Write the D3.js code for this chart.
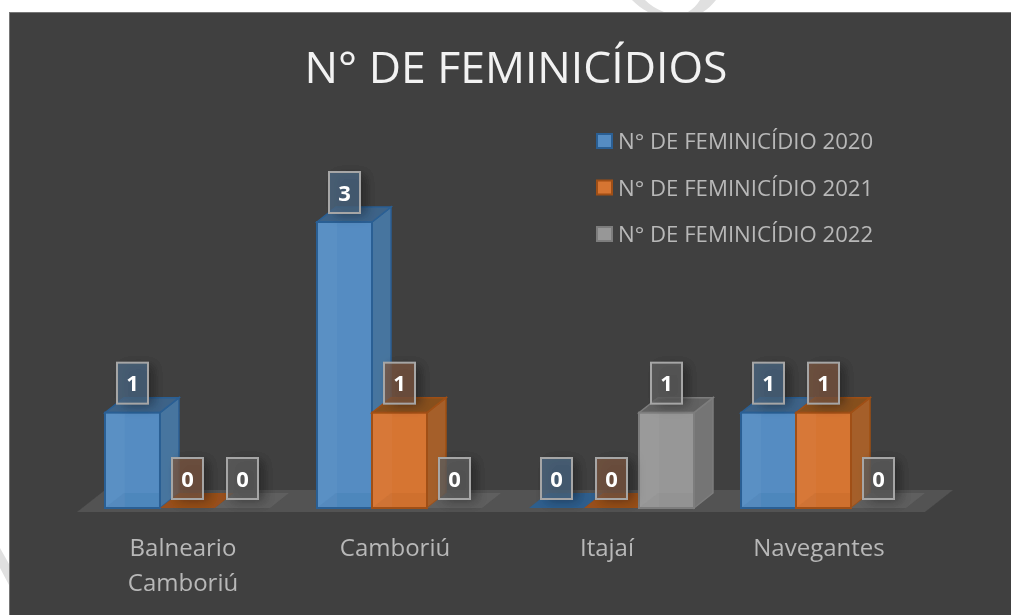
<!DOCTYPE html>
<html>
<head>
<meta charset="utf-8">
<script src="https://cdn.jsdelivr.net/npm/d3@7"></script>
<style>
  html, body { margin: 0; padding: 0; background: #fff; }
  svg { display: block; }
  text { font-family: "Open Sans", "Noto Sans", sans-serif; }
</style>
</head>
<body>
<div id="chart"></div>
<script>
var categories = ["Balneario Camboriú", "Camboriú", "Itajaí", "Navegantes"];
var seriesNames = ["N° DE FEMINICÍDIO 2020", "N° DE FEMINICÍDIO 2021", "N° DE FEMINICÍDIO 2022"];
var values2020 = [1, 3, 0, 1];
var values2021 = [0, 1, 0, 1];
var values2022 = [0, 0, 1, 0];
var chartTitle = "N° DE FEMINICÍDIOS";

var width = 1011, height = 615;
var depthX = 19, depthY = 15;

// one set of shades per series: front, side, top, edge
var shades = [
    {front: "#548cc2", side: "#47759f", top: "#3d6388", edge: "#2a5f94", label: "#4a6781"},
    {front: "#d67432", side: "#a55f2a", top: "#87501f", edge: "#a04f14", label: "#7a5640"},
    {front: "#979797", side: "#757575", top: "#626262", edge: "#7d7d7d", label: "#5e5e5e"}
];

var svg = d3.select("#chart").append("svg")
    .attr("width", width)
    .attr("height", height);

var defs = svg.append("defs");
defs.append("filter").attr("id", "soft")
    .append("feGaussianBlur").attr("stdDeviation", 0.45);
defs.append("filter").attr("id", "shadow")
    .attr("x", "-60%").attr("y", "-60%").attr("width", "220%").attr("height", "220%")
    .append("feGaussianBlur").attr("stdDeviation", 6);

// watermark bits showing in the white margin
svg.append("path")
    .attr("d", "M0,548 L9,564 L9,585 L0,568 Z M632,0 L645,0 C650,5 656,9 664,12 L648,12 C642,9 637,5 632,0 Z M700,0 L716,0 C712,5 708,9 703,12 L688,12 C693,9 697,5 700,0 Z")
    .attr("fill", "#e0e0e0");

var root = svg.append("g").attr("filter", "url(#soft)");

root.append("rect")
    .attr("x", 9.5).attr("y", 12.5)
    .attr("width", width).attr("height", height)
    .attr("fill", "#404040")
    .attr("stroke", "#767676");

root.append("text")
    .attr("x", 516).attr("y", 83)
    .attr("text-anchor", "middle")
    .attr("font-size", 44.5)
    .attr("fill", "#f2f2f2")
    .text(chartTitle);

var x0 = d3.scaleBand()
    .domain(categories)
    .range([81.5, 929.5])
    .paddingInner(0.2217)
    .paddingOuter(0.1108);

var x1 = d3.scaleBand()
    .domain(seriesNames)
    .range([0, x0.bandwidth()]);

var y = d3.scaleLinear()
    .domain([0, 3])
    .range([508, 222]);

// floor of the 3D chart
var floorL = x0.range()[0] - 4.5, floorR = x0.range()[1] - 4.5, floorY = y(0) + 4;
root.append("path")
    .attr("d", d3.line()([[floorL, floorY], [floorR, floorY], [floorR + 28, floorY - 22], [floorL + 28, floorY - 22]]) + "Z")
    .attr("fill", "#525252");

var allValues = [values2020, values2021, values2022];

var rows = [];
categories.forEach(function(c, i) {
    seriesNames.forEach(function(s, j) {
        rows.push({cat: c, series: s, idx: j, value: allValues[j][i]});
    });
});

function poly(pts) { return d3.line()(pts) + "Z"; }

var bars = root.selectAll("g.bar")
    .data(rows)
    .enter()
    .append("g")
    .attr("class", "bar");

bars.each(function(d) {
    var g = d3.select(this);
    var c = shades[d.idx];
    var xa = x0(d.cat) + x1(d.series);
    var xb = xa + x1.bandwidth();
    var yb = y(0), yt = y(d.value);

    if (d.value == 0) {
        // zero values are only a flat plate on the floor
        g.append("path")
            .attr("d", poly([[xa, yb], [xb, yb], [xb + depthX, yb - depthY], [xa + depthX, yb - depthY]]))
            .attr("fill", d.idx == 2 ? "#626262" : c.edge)
            .attr("fill-opacity", d.idx == 2 ? 0.8 : 0.9);
        return;
    }
    g.append("path")
        .attr("d", poly([[xb, yb], [xb + depthX, yb - depthY], [xb + depthX, yt - depthY], [xb, yt]]))
        .attr("fill", c.side).attr("stroke", c.edge).attr("stroke-width", 1.5);
    g.append("path")
        .attr("d", poly([[xa, yt], [xb, yt], [xb + depthX, yt - depthY], [xa + depthX, yt - depthY]]))
        .attr("fill", c.top).attr("stroke", c.edge).attr("stroke-width", 1.5);
    g.append("rect")
        .attr("x", xa).attr("y", yt)
        .attr("width", xb - xa).attr("height", yb - yt)
        .attr("fill", c.front).attr("stroke", c.edge).attr("stroke-width", 2);
    // inner back edge seen through the translucent bar
    g.append("rect")
        .attr("x", xa + 1).attr("y", yt + 1)
        .attr("width", depthX).attr("height", yb - yt - 2)
        .attr("fill", "#fff").attr("fill-opacity", 0.035);
    g.append("path")
        .attr("d", poly([[xa + 1, yb - 1], [xb - 1, yb - 1], [xb - 1, yb - depthY], [xa + depthX, yb - depthY]]))
        .attr("fill", c.edge).attr("fill-opacity", 0.12);
});

// value labels sit above the bar in a translucent box
var boxW = 31, boxH = 41;

var labelShadows = root.append("g").selectAll("rect")
    .data(rows)
    .enter()
    .append("rect")
    .attr("x", function(d) { return x0(d.cat) + x1(d.series) + x1.bandwidth() / 2 - boxW / 2 + 6; })
    .attr("y", function(d) { return y(d.value) - 9 - boxH + 2; })
    .attr("width", boxW)
    .attr("height", boxH)
    .attr("fill", "#000")
    .attr("fill-opacity", 0.38)
    .attr("filter", "url(#shadow)");

var labels = root.selectAll("g.value")
    .data(rows)
    .enter()
    .append("g")
    .attr("class", "value")
    .attr("transform", function(d) {
        return "translate(" + (x0(d.cat) + x1(d.series) + x1.bandwidth() / 2) + "," + (y(d.value) - 9 - boxH / 2) + ")";
    });

labels.append("rect")
    .attr("x", -boxW / 2).attr("y", -boxH / 2)
    .attr("width", boxW).attr("height", boxH)
    .attr("fill", function(d) { return shades[d.idx].label; })
    .attr("fill-opacity", 0.78)
    .attr("stroke", "#a6a6a6")
    .attr("stroke-width", 2);

labels.append("text")
    .attr("text-anchor", "middle")
    .attr("y", 8)
    .attr("font-size", 22)
    .attr("font-weight", 700)
    .attr("fill", "#fff")
    .text(function(d) { return d.value; });

// category labels, the long one wraps in two lines
var catLabels = root.selectAll("text.cat")
    .data(categories)
    .enter()
    .append("text")
    .attr("class", "cat")
    .attr("text-anchor", "middle")
    .attr("font-size", 24)
    .attr("fill", "#b8b8b8");

catLabels.each(function(d, i) {
    var cx = x0(d) + x0.bandwidth() / 2 - 4.5;
    var words = d == "Balneario Camboriú" ? d.split(" ") : [d];
    d3.select(this).selectAll("tspan")
        .data(words)
        .enter()
        .append("tspan")
        .attr("x", cx)
        .attr("y", function(w, k) { return 556 + k * 35; })
        .text(function(w) { return w; });
});

// legend
var legend = root.selectAll("g.legend")
    .data(seriesNames)
    .enter()
    .append("g")
    .attr("class", "legend")
    .attr("transform", function(d, i) { return "translate(597," + (134 + i * 46.5) + ")"; });

legend.append("rect")
    .attr("width", 15).attr("height", 14)
    .attr("fill", function(d, i) { return shades[i].front; })
    .attr("stroke", function(d, i) { return shades[i].edge; })
    .attr("stroke-width", 2);

legend.append("text")
    .attr("x", 21).attr("y", 15)
    .attr("font-size", 22.2)
    .attr("fill", "#b8b8b8")
    .text(function(d) { return d; });
</script>
</body>
</html>
